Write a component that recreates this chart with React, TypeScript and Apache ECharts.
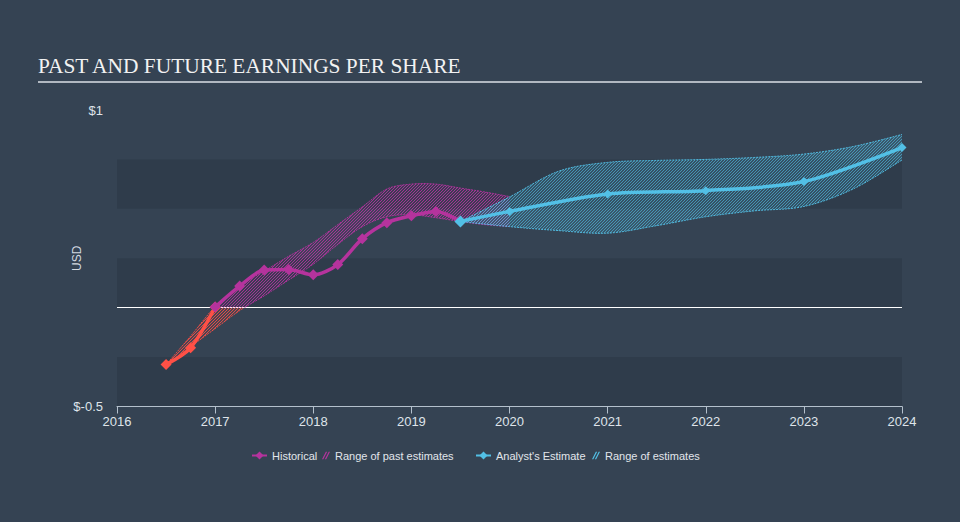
import React, { useEffect, useRef } from 'react';
import * as echarts from 'echarts';

// ---- data ----
const histNegX = [2016.5, 2016.75, 2017.0];
const histNegY = [-0.288, -0.203, 0.003];
const histX = [2017.0, 2017.25, 2017.5, 2017.75, 2018.0, 2018.25, 2018.5, 2018.75, 2019.0, 2019.25, 2019.5];
const histY = [0.003, 0.109, 0.19, 0.193, 0.166, 0.218, 0.349, 0.43, 0.465, 0.487, 0.436];
const estX = [2019.5, 2020, 2021, 2022, 2023, 2024];
const estY = [0.436, 0.487, 0.575, 0.592, 0.638, 0.81];
const pastRangeX = [2016.5, 2016.75, 2017.0, 2017.25, 2017.5, 2017.75, 2018.0, 2018.25, 2018.5, 2018.75, 2019.0, 2019.25, 2019.5, 2019.75, 2020.0];
const pastRangeLow = [-0.288, -0.197, -0.106, -0.015, 0.06, 0.14, 0.22, 0.32, 0.41, 0.46, 0.47, 0.455, 0.436, 0.42, 0.41];
const pastRangeHigh = [-0.288, -0.144, 0.005, 0.11, 0.185, 0.26, 0.33, 0.42, 0.51, 0.6, 0.625, 0.625, 0.605, 0.585, 0.562];
const estRangeX = [2019.5, 2020, 2020.5, 2021, 2021.5, 2022, 2022.5, 2023, 2023.5, 2024];
const estRangeLow = [0.436, 0.41, 0.39, 0.377, 0.415, 0.46, 0.49, 0.512, 0.6, 0.747];
const estRangeHigh = [0.436, 0.56, 0.69, 0.735, 0.745, 0.75, 0.76, 0.777, 0.815, 0.876];
const yLabels: Record<string, string> = { '1': '$1', '-0.5': '$-0.5' };

const TITLE = 'PAST AND FUTURE EARNINGS PER SHARE';
const BG = '#354353';
const BAND = '#2f3c4b';
const RED = '#ff5046';
const PURPLE = '#b5339d';
const BLUE = '#52c0e6';

function hatch(color: string, tint: string) {
  const n = 3;
  const c = document.createElement('canvas');
  c.width = n;
  c.height = n;
  const ctx = c.getContext('2d')!;
  ctx.fillStyle = tint;
  ctx.fillRect(0, 0, n, n);
  ctx.strokeStyle = color;
  ctx.lineWidth = 1;
  ctx.beginPath();
  ctx.moveTo(0, n); ctx.lineTo(n, 0);
  ctx.moveTo(-1, 1); ctx.lineTo(1, -1);
  ctx.moveTo(n - 1, n + 1); ctx.lineTo(n + 1, n - 1);
  ctx.stroke();
  return { image: c as any, repeat: 'repeat', imageWidth: n, imageHeight: n } as any;
}

function spline(pts: number[][], steps = 14): number[][] {
  if (pts.length < 3) return pts;
  const out: number[][] = [];
  for (let i = 0; i < pts.length - 1; i++) {
    const p0 = pts[i - 1] || pts[i];
    const p1 = pts[i];
    const p2 = pts[i + 1];
    const p3 = pts[i + 2] || pts[i + 1];
    for (let s = 0; s < steps; s++) {
      const t = s / steps, t2 = t * t, t3 = t2 * t;
      const f = (k: number) => 0.5 * (2 * p1[k] + (-p0[k] + p2[k]) * t + (2 * p0[k] - 5 * p1[k] + 4 * p2[k] - p3[k]) * t2 + (-p0[k] + 3 * p1[k] - 3 * p2[k] + p3[k]) * t3);
      out.push([f(0), f(1)]);
    }
  }
  out.push(pts[pts.length - 1]);
  return out;
}

function bandRenderer(xs: number[], lo: number[], hi: number[], above: string, below: string | null, patA: any, patB: any) {
  return (params: any, api: any) => {
    if (params.dataIndex !== 0) return null;
    const up = spline(xs.map((x, i) => api.coord([x, hi[i]])));
    const dn = spline(xs.map((x, i) => api.coord([x, lo[i]])));
    const zeroY = api.coord([xs[0], 0])[1];
    const children: any[] = [];
    const edge = (pts: number[][], color: string) => {
      if (pts.length < 2) return;
      children.push({ type: 'polyline', shape: { points: pts }, style: { stroke: color, lineWidth: 1, lineDash: [2, 1], fill: null }, silent: true });
    };
    if (below) {
      const cA = (p: number[]) => [p[0], Math.min(p[1], zeroY)];
      const cB = (p: number[]) => [p[0], Math.max(p[1], zeroY)];
      children.push({ type: 'polygon', shape: { points: up.map(cA).concat(dn.map(cA).reverse()) }, style: { fill: patA }, silent: true });
      children.push({ type: 'polygon', shape: { points: up.map(cB).concat(dn.map(cB).reverse()) }, style: { fill: patB }, silent: true });
      edge(up.filter((p) => p[1] <= zeroY), above);
      edge(dn.filter((p) => p[1] <= zeroY), above);
      edge(up.filter((p) => p[1] >= zeroY), below);
      edge(dn.filter((p) => p[1] >= zeroY), below);
    } else {
      children.push({ type: 'polygon', shape: { points: up.concat(dn.slice().reverse()) }, style: { fill: patA }, silent: true });
      edge(up, above);
      edge(dn, above);
    }
    return { type: 'group', children };
  };
}

const HATCH_ICON = 'path://M0,8L4,0L5.4,0L1.4,8Z M3,8L7,0L8.4,0L4.4,8Z';

export default function App() {
  const ref = useRef<HTMLDivElement>(null);
  useEffect(() => {
    const chart = echarts.init(ref.current!, null, { renderer: 'svg' });
    const patPurple = hatch('rgba(190,50,165,0.8)', 'rgba(181,51,157,0.1)');
    const patRed = hatch('rgba(255,80,70,0.8)', 'rgba(255,80,70,0.1)');
    const patBlue = hatch('rgba(82,192,230,0.6)', 'rgba(82,192,230,0.16)');
    const legendText = { color: '#e2e6eb', fontSize: 11, fontFamily: 'Liberation Sans, Arial, sans-serif' };
    const legendBase = { top: 450, padding: 0, itemHeight: 10, textStyle: legendText, selectedMode: false };
    chart.setOption({
      animation: false,
      backgroundColor: BG,
      textStyle: { fontFamily: 'Liberation Sans, Arial, sans-serif' },
      graphic: [
        { type: 'text', left: 38, top: 55, style: { text: TITLE, fill: '#f2f2f2', fontSize: 21.4, fontFamily: 'Liberation Serif, Times New Roman, serif' } },
        { type: 'rect', shape: { x: 38, y: 81, width: 884, height: 2 }, style: { fill: '#b1b8c1' } },
      ],
      legend: [
        { ...legendBase, left: 251, itemWidth: 15, data: ['Historical'] },
        { ...legendBase, left: 322, itemWidth: 8, itemHeight: 8, data: [{ name: 'Range of past estimates', icon: HATCH_ICON, itemStyle: { color: PURPLE } }] },
        { ...legendBase, left: 475, itemWidth: 15, data: ["Analyst's Estimate"] },
        { ...legendBase, left: 592, itemWidth: 8, itemHeight: 8, data: [{ name: 'Range of estimates', icon: HATCH_ICON, itemStyle: { color: BLUE } }] },
      ],
      grid: { left: 117, right: 58, top: 110, bottom: 115.5, containLabel: false },
      xAxis: {
        type: 'value', min: 2016, max: 2024, interval: 1,
        axisLine: { onZero: false, lineStyle: { color: '#b4c0cc', width: 1 } },
        axisTick: { show: true, length: 7, lineStyle: { color: '#b4c0cc' } },
        axisLabel: { color: '#dfe4ea', fontSize: 13, margin: 8, formatter: (v: number) => String(v) },
        splitLine: { show: false },
      },
      yAxis: {
        type: 'value', min: -0.5, max: 1, interval: 0.25,
        name: 'USD', nameLocation: 'middle', nameGap: 34, nameMoveOverlap: false,
        nameTextStyle: { color: '#d3d9e0', fontSize: 12 },
        axisLine: { show: false }, axisTick: { show: false },
        axisLabel: { color: '#dfe4ea', fontSize: 13, margin: 14, formatter: (v: number) => yLabels[String(v)] || '' },
        splitLine: { show: true, lineStyle: { width: 1, color: ['rgba(0,0,0,0)', 'rgba(0,0,0,0)', '#ffffff', 'rgba(0,0,0,0)', 'rgba(0,0,0,0)', 'rgba(0,0,0,0)', 'rgba(0,0,0,0)'] } },
        splitArea: { show: true, areaStyle: { color: [BAND, 'rgba(0,0,0,0)'] } },
      },
      series: [
        {
          type: 'custom', name: 'Range of past estimates', coordinateSystem: 'cartesian2d',
          itemStyle: { color: PURPLE },
          encode: { x: 0, y: [1, 2] },
          data: pastRangeX.map((x, i) => [x, pastRangeLow[i], pastRangeHigh[i]]),
          renderItem: bandRenderer(pastRangeX, pastRangeLow, pastRangeHigh, 'rgba(190,50,165,0.9)', 'rgba(255,80,70,0.9)', patPurple, patRed),
          z: 2,
        },
        {
          type: 'custom', name: 'Range of estimates', coordinateSystem: 'cartesian2d',
          itemStyle: { color: BLUE },
          encode: { x: 0, y: [1, 2] },
          data: estRangeX.map((x, i) => [x, estRangeLow[i], estRangeHigh[i]]),
          renderItem: bandRenderer(estRangeX, estRangeLow, estRangeHigh, 'rgba(82,192,230,0.95)', null, patBlue, null),
          z: 2,
        },
        {
          type: 'line', name: 'HistoricalNegative', data: histNegX.map((x, i) => [x, histNegY[i]]),
          smooth: 0.3, symbol: 'diamond', symbolSize: 11,
          lineStyle: { color: RED, width: 3.5 }, itemStyle: { color: RED }, z: 3,
        },
        {
          type: 'line', name: 'Historical', data: histX.map((x, i) => [x, histY[i]]),
          smooth: 0.3, symbol: 'diamond', symbolSize: 11,
          lineStyle: { color: PURPLE, width: 3.5 }, itemStyle: { color: PURPLE }, z: 4,
        },
        {
          type: 'line', name: "Analyst's Estimate", data: estX.map((x, i) => [x, estY[i]]),
          smooth: 0.3, symbol: 'diamond',
          symbolSize: (_v: any, p: any) => (p.dataIndex === 0 ? 12 : 9),
          lineStyle: { color: BLUE, width: 3.5 }, itemStyle: { color: BLUE }, z: 5,
        },
      ],
    });
    return () => chart.dispose();
  }, []);
  return <div ref={ref} style={{ position: 'fixed', left: 0, top: 0, width: 960, height: 522, background: BG }} />;
}
